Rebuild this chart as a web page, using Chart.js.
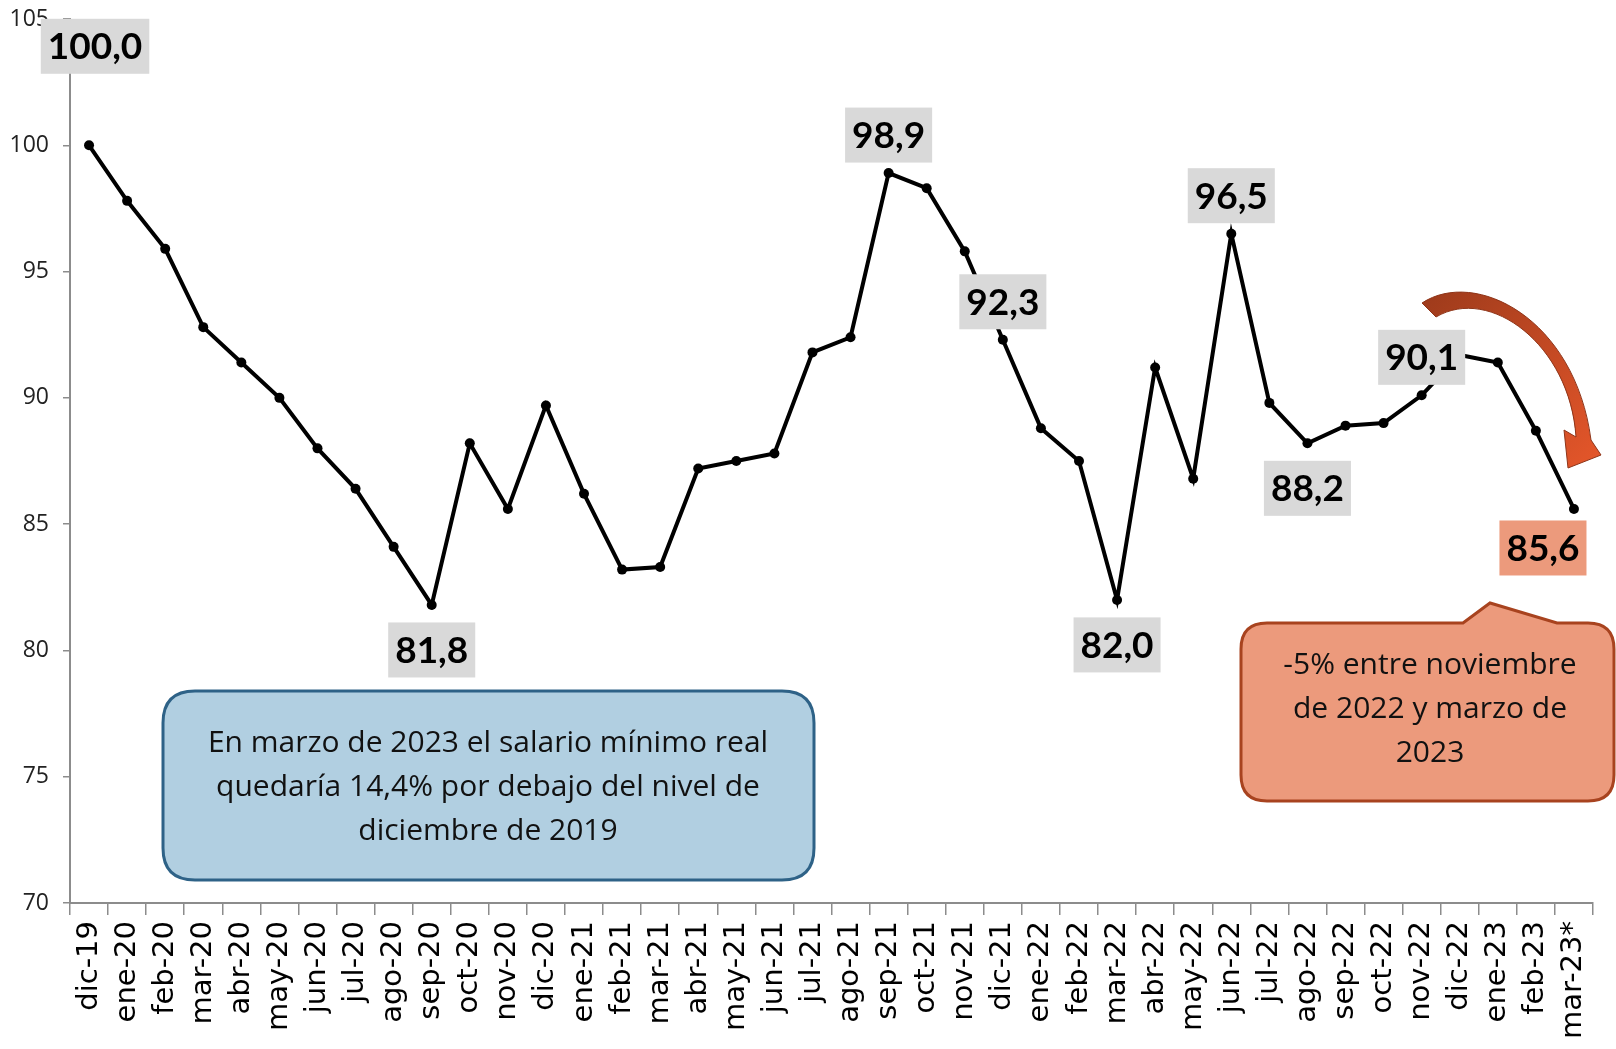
<!DOCTYPE html>
<html lang="es">
<head>
<meta charset="utf-8">
<script src="https://cdn.jsdelivr.net/npm/chart.js@4.4.1/dist/chart.umd.min.js"></script>
<style>
  html, body { margin: 0; padding: 0; background: #fff; }
  #marco { width: 1616px; height: 1049px; position: relative; }
</style>
</head>
<body>
<div id="marco"><canvas id="grafico"></canvas></div>
<script>
/* Salario mínimo real, índice dic-19 = 100 */

const meses = [
  "dic-19", "ene-20", "feb-20", "mar-20", "abr-20", "may-20", "jun-20", "jul-20",
  "ago-20", "sep-20", "oct-20", "nov-20", "dic-20", "ene-21", "feb-21", "mar-21",
  "abr-21", "may-21", "jun-21", "jul-21", "ago-21", "sep-21", "oct-21", "nov-21",
  "dic-21", "ene-22", "feb-22", "mar-22", "abr-22", "may-22", "jun-22", "jul-22",
  "ago-22", "sep-22", "oct-22", "nov-22", "dic-22", "ene-23", "feb-23", "mar-23*"
];

const indice = [
  100.0, 97.8, 95.9, 92.8, 91.4, 90.0, 88.0, 86.4,
  84.1, 81.8, 88.2, 85.6, 89.7, 86.2, 83.2, 83.3,
  87.2, 87.5, 87.8, 91.8, 92.4, 98.9, 98.3, 95.8,
  92.3, 88.8, 87.5, 82.0, 91.2, 86.8, 96.5, 89.8,
  88.2, 88.9, 89.0, 90.1, 91.7, 91.4, 88.7, 85.6
];

const ticksY = [70, 75, 80, 85, 90, 95, 100, 105];

// etiquetas de datos: índice del punto y si va arriba o abajo
const etiquetasIdx   = [0, 9, 21, 24, 27, 30, 32, 35, 39];
const etiquetasLado  = ["arriba0", "abajo", "arriba", "arriba", "abajo", "arriba", "abajo", "arriba", "abajoIzq"];

const textoAzul = [
  "En marzo de 2023 el salario mínimo real",
  "quedaría 14,4% por debajo del nivel de",
  "diciembre de 2019"
];
const textoRojo = [
  "-5% entre noviembre",
  "de 2022 y marzo de",
  "2023"
];

const COR_GRIS_ETQ = "#d9d9d9";
const COR_SALMON   = "#ec9a7c";
const COR_EJE      = "#8c8c8c";
const FUENTE       = "Lato, 'Open Sans', sans-serif";
const FUENTE_NOTA  = "'Open Sans', Lato, sans-serif";

function fmt(v) {
  return v.toFixed(1).replace(".", ",");
}

function cajaRedondeada(ctx, x, y, w, h, r) {
  ctx.beginPath();
  ctx.moveTo(x + r, y);
  ctx.lineTo(x + w - r, y);
  ctx.quadraticCurveTo(x + w, y, x + w, y + r);
  ctx.lineTo(x + w, y + h - r);
  ctx.quadraticCurveTo(x + w, y + h, x + w - r, y + h);
  ctx.lineTo(x + r, y + h);
  ctx.quadraticCurveTo(x, y + h, x, y + h - r);
  ctx.lineTo(x, y + r);
  ctx.quadraticCurveTo(x, y, x + r, y);
  ctx.closePath();
}

const pluginEtiquetas = {
  id: "etiquetas",
  afterDatasetsDraw(chart) {
    const ctx = chart.ctx;
    const meta = chart.getDatasetMeta(0);
    ctx.save();
    ctx.font = "bold 37px " + FUENTE;
    ctx.textAlign = "center";
    ctx.textBaseline = "middle";
    etiquetasIdx.forEach((idx, k) => {
      const p = meta.data[idx];
      const txt = fmt(indice[idx]);
      const lado = etiquetasLado[k];
      let cx = p.x, cy;
      if (lado === "arriba0") { cx = p.x + 6; cy = p.y - 99; }
      else if (lado === "arriba") cy = p.y - 38;
      else if (lado === "abajo") cy = p.y + 45;
      else { cx = p.x - 31; cy = p.y + 39; }
      const w = ctx.measureText(txt).width + 14;
      const h = 55;
      ctx.fillStyle = lado === "abajoIzq" ? COR_SALMON : COR_GRIS_ETQ;
      ctx.fillRect(cx - w / 2, cy - h / 2, w, h);
      ctx.fillStyle = "#000";
      ctx.fillText(txt, cx, cy + 1);
    });
    ctx.restore();
  }
};

const pluginNotas = {
  id: "notas",
  afterDraw(chart) {
    const ctx = chart.ctx;
    ctx.save();

    // recuadro azul
    cajaRedondeada(ctx, 163, 691, 651, 189, 32);
    ctx.fillStyle = "#b1cfe1";
    ctx.fill();
    ctx.lineWidth = 3;
    ctx.strokeStyle = "#2e6287";
    ctx.stroke();
    ctx.fillStyle = "#111";
    ctx.font = "30px " + FUENTE_NOTA;
    ctx.textAlign = "center";
    ctx.textBaseline = "middle";
    textoAzul.forEach((t, i) => ctx.fillText(t, 488, 743 + i * 44));

    // globo salmón con pico
    const x = 1241, y = 623, w = 373, h = 178, r = 26;
    ctx.beginPath();
    ctx.moveTo(x + r, y);
    ctx.lineTo(1463, y);
    ctx.lineTo(1490, 603);
    ctx.lineTo(1557, y);
    ctx.lineTo(x + w - r, y);
    ctx.quadraticCurveTo(x + w, y, x + w, y + r);
    ctx.lineTo(x + w, y + h - r);
    ctx.quadraticCurveTo(x + w, y + h, x + w - r, y + h);
    ctx.lineTo(x + r, y + h);
    ctx.quadraticCurveTo(x, y + h, x, y + h - r);
    ctx.lineTo(x, y + r);
    ctx.quadraticCurveTo(x, y, x + r, y);
    ctx.closePath();
    ctx.fillStyle = COR_SALMON;
    ctx.fill();
    ctx.lineWidth = 3;
    ctx.strokeStyle = "#a8431f";
    ctx.stroke();
    ctx.fillStyle = "#111";
    textoRojo.forEach((t, i) => ctx.fillText(t, 1430, 665 + i * 44));

    // flecha curva
    const grad = ctx.createLinearGradient(1420, 290, 1600, 460);
    grad.addColorStop(0, "#9c3a1b");
    grad.addColorStop(1, "#e4562a");
    ctx.beginPath();
    ctx.moveTo(1422, 303);
    ctx.bezierCurveTo(1475, 268, 1575, 318, 1591, 440);
    ctx.lineTo(1601, 455);
    ctx.lineTo(1568, 468);
    ctx.lineTo(1564, 430);
    ctx.lineTo(1576, 437);
    ctx.bezierCurveTo(1570, 345, 1490, 285, 1436, 317);
    ctx.closePath();
    ctx.fillStyle = grad;
    ctx.fill();
    ctx.lineWidth = 1;
    ctx.strokeStyle = "#8e3418";
    ctx.stroke();

    ctx.restore();
  }
};

function crearGrafico() {
  const ctx = document.getElementById("grafico").getContext("2d");
  new Chart(ctx, {
    type: "line",
    data: {
      labels: meses,
      datasets: [{
        data: indice,
        borderColor: "#000",
        backgroundColor: "#000",
        borderWidth: 4,
        pointRadius: 5,
        pointBackgroundColor: "#000",
        pointBorderWidth: 0,
        tension: 0,
        fill: false
      }]
    },
    options: {
      responsive: true,
      maintainAspectRatio: false,
      animation: false,
      layout: { padding: { top: 19, right: 23, left: 0, bottom: 0 } },
      plugins: {
        legend: { display: false },
        tooltip: { enabled: false }
      },
      scales: {
        x: {
          offset: true,
          grid: {
            display: true,
            offset: true,
            drawOnChartArea: false,
            drawTicks: true,
            tickLength: 12,
            color: COR_EJE,
            lineWidth: 1.5
          },
          border: { color: COR_EJE, width: 2 },
          ticks: {
            autoSkip: false,
            minRotation: 90,
            maxRotation: 90,
            padding: 6,
            color: "#000",
            font: { family: "'DejaVu Sans'", size: 29 }
          },
          afterFit: s => { s.height = 146; s.paddingLeft = 0; s.paddingRight = 0; }
        },
        y: {
          min: 70,
          max: 105,
          afterBuildTicks: s => { s.ticks = ticksY.map(v => ({ value: v })); },
          grid: {
            display: true,
            drawOnChartArea: false,
            drawTicks: true,
            tickLength: 7,
            color: COR_EJE,
            lineWidth: 1.5
          },
          border: { color: COR_EJE, width: 2 },
          ticks: {
            padding: 14,
            color: "#222",
            font: { family: FUENTE_NOTA, size: 23 }
          },
          afterFit: s => { s.width = 70; s.paddingTop = 0; s.paddingBottom = 0; }
        }
      }
    },
    plugins: [pluginEtiquetas, pluginNotas]
  });
}

Promise.all([
  document.fonts.load("30px 'Open Sans'"),
  document.fonts.load("bold 37px Lato"),
  document.fonts.load("29px 'DejaVu Sans'")
]).then(crearGrafico, crearGrafico);
</script>
</body>
</html>
